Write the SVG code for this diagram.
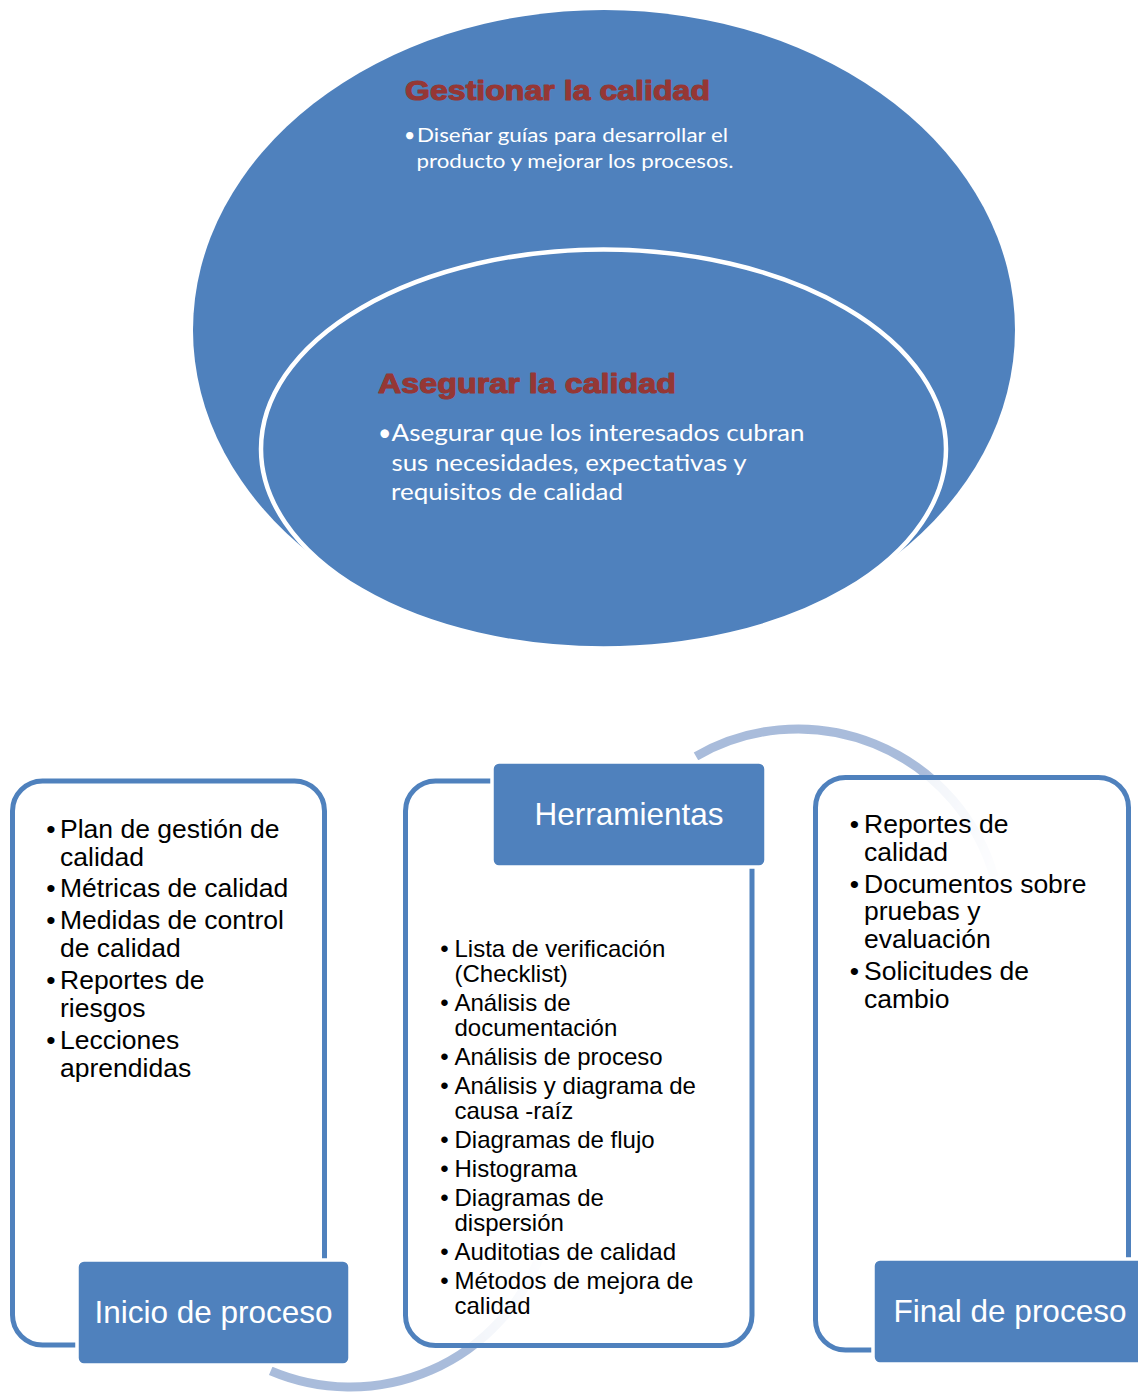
<svg xmlns="http://www.w3.org/2000/svg" width="1138" height="1394" viewBox="0 0 1138 1394">
  <style>
    .blob { fill: #4F81BD; }
    .ring { fill: #4F81BD; stroke: #FFFFFF; stroke-width: 4.5; }
    .head { font-family: "Liberation Sans", Arial, sans-serif; font-weight: bold; fill: #953735; stroke: #953735; stroke-width: 1.1; stroke-linejoin: round; }
    .note { font-family: Lato, "Open Sans", sans-serif; fill: #FFFFFF; }
    .frame { fill: #FFFFFF; fill-opacity: 0.85; stroke: #4F81BD; stroke-width: 5; }
    .tab { fill: #4F81BD; stroke: #FFFFFF; stroke-width: 3.5; }
    .tabtxt { font-family: "Liberation Sans", Arial, sans-serif; font-size: 31.5px; fill: #FFFFFF; text-anchor: middle; }
    .item { font-family: "Liberation Sans", Arial, sans-serif; fill: #000000; }
    .dot { text-anchor: middle; }
    .arc { fill: none; stroke-width: 9; stroke-linecap: butt; }
  </style>
  <defs>
    <linearGradient id="fadeTop" gradientUnits="userSpaceOnUse" x1="696" y1="756" x2="994" y2="877">
      <stop offset="0" stop-color="#A9BCDB" stop-opacity="1"/>
      <stop offset="0.68" stop-color="#A9BCDB" stop-opacity="1"/>
      <stop offset="1" stop-color="#A9BCDB" stop-opacity="0.2"/>
    </linearGradient>
    <linearGradient id="fadeBottom" gradientUnits="userSpaceOnUse" x1="270.7" y1="1370.9" x2="540.8" y2="1253.4">
      <stop offset="0" stop-color="#A9BCDB" stop-opacity="1"/>
      <stop offset="0.66" stop-color="#A9BCDB" stop-opacity="1"/>
      <stop offset="1" stop-color="#A9BCDB" stop-opacity="0.2"/>
    </linearGradient>
  </defs>

  <rect x="0" y="0" width="1138" height="1394" fill="#FFFFFF"/>

  <!-- Nested quality circles -->
  <g id="gestionar">
    <ellipse class="blob" cx="604" cy="330" rx="411" ry="320"/>
    <text class="head" x="405" y="100" font-size="27" textLength="305" lengthAdjust="spacingAndGlyphs">Gestionar la calidad</text>
    <text class="note" x="404" y="141.5" font-size="19.5">•</text>
    <text class="note" x="417" y="141.5" font-size="19.5" textLength="311" lengthAdjust="spacingAndGlyphs">Diseñar guías para desarrollar el</text>
    <text class="note" x="416.5" y="167.5" font-size="19.5" textLength="317" lengthAdjust="spacingAndGlyphs">producto y mejorar los procesos.</text>
  </g>

  <g id="asegurar">
    <ellipse class="ring" cx="603.5" cy="449" rx="342.5" ry="199.5"/>
    <text class="head" x="378" y="393" font-size="28" textLength="298" lengthAdjust="spacingAndGlyphs">Asegurar la calidad</text>
    <text class="note" x="378" y="440.5" font-size="23">•</text>
    <text class="note" x="391.5" y="440.5" font-size="23" textLength="413" lengthAdjust="spacingAndGlyphs">Asegurar que los interesados cubran</text>
    <text class="note" x="391.5" y="470.5" font-size="23" textLength="355" lengthAdjust="spacingAndGlyphs">sus necesidades, expectativas y</text>
    <text class="note" x="391" y="500" font-size="23" textLength="232" lengthAdjust="spacingAndGlyphs">requisitos de calidad</text>
  </g>

  <!-- Flow arcs behind the process panels -->
  <g id="connectors">
    <path class="arc" stroke="url(#fadeTop)" d="M696,756.3 A204,204 0 0 1 994.1,876.8"/>
    <path class="arc" stroke="url(#fadeBottom)" d="M270.7,1370.9 A203,203 0 0 0 540.8,1253.4"/>
  </g>

  <!-- Panel 1: start of process -->
  <g id="inicio">
    <rect class="frame" x="12.5" y="781" width="312" height="564" rx="30" ry="30"/>
    <g class="item" font-size="26.5">
      <text class="dot" x="51" y="838">•</text>
      <text x="60" y="838">Plan de gestión de</text>
      <text x="60" y="866">calidad</text>
      <text class="dot" x="51" y="897">•</text>
      <text x="60" y="897">Métricas de calidad</text>
      <text class="dot" x="51" y="929">•</text>
      <text x="60" y="929">Medidas de control</text>
      <text x="60" y="957">de calidad</text>
      <text class="dot" x="51" y="989">•</text>
      <text x="60" y="989">Reportes de</text>
      <text x="60" y="1017">riesgos</text>
      <text class="dot" x="51" y="1049">•</text>
      <text x="60" y="1049">Lecciones</text>
      <text x="60" y="1077">aprendidas</text>
    </g>
    <rect class="tab" x="77" y="1260" width="273" height="105" rx="7" ry="7"/>
    <text class="tabtxt" x="213.5" y="1323">Inicio de proceso</text>
  </g>

  <!-- Panel 2: tools -->
  <g id="herramientas">
    <rect class="frame" x="405.5" y="781" width="346.5" height="564.5" rx="30" ry="30"/>
    <rect class="tab" x="492" y="762" width="274" height="105" rx="7" ry="7"/>
    <text class="tabtxt" x="629" y="825">Herramientas</text>
    <g class="item" font-size="24">
      <text class="dot" x="444.5" y="957">•</text>
      <text x="454.5" y="957">Lista de verificación</text>
      <text x="454.5" y="982">(Checklist)</text>
      <text class="dot" x="444.5" y="1011">•</text>
      <text x="454.5" y="1011">Análisis de</text>
      <text x="454.5" y="1036">documentación</text>
      <text class="dot" x="444.5" y="1065">•</text>
      <text x="454.5" y="1065">Análisis de proceso</text>
      <text class="dot" x="444.5" y="1094">•</text>
      <text x="454.5" y="1094">Análisis y diagrama de</text>
      <text x="454.5" y="1119">causa -raíz</text>
      <text class="dot" x="444.5" y="1148">•</text>
      <text x="454.5" y="1148">Diagramas de flujo</text>
      <text class="dot" x="444.5" y="1177">•</text>
      <text x="454.5" y="1177">Histograma</text>
      <text class="dot" x="444.5" y="1206">•</text>
      <text x="454.5" y="1206">Diagramas de</text>
      <text x="454.5" y="1231">dispersión</text>
      <text class="dot" x="444.5" y="1260">•</text>
      <text x="454.5" y="1260">Auditotias de calidad</text>
      <text class="dot" x="444.5" y="1289">•</text>
      <text x="454.5" y="1289">Métodos de mejora de</text>
      <text x="454.5" y="1314">calidad</text>
    </g>
  </g>

  <!-- Panel 3: end of process -->
  <g id="final">
    <rect class="frame" x="815.5" y="777.5" width="313" height="572.5" rx="30" ry="30"/>
    <g class="item" font-size="26.5">
      <text class="dot" x="854.5" y="833">•</text>
      <text x="864" y="833">Reportes de</text>
      <text x="864" y="861">calidad</text>
      <text class="dot" x="854.5" y="893">•</text>
      <text x="864" y="893">Documentos sobre</text>
      <text x="864" y="920">pruebas y</text>
      <text x="864" y="948">evaluación</text>
      <text class="dot" x="854.5" y="980">•</text>
      <text x="864" y="980">Solicitudes de</text>
      <text x="864" y="1008">cambio</text>
    </g>
    <rect class="tab" x="873" y="1259" width="274" height="105" rx="7" ry="7"/>
    <text class="tabtxt" x="1010" y="1322">Final de proceso</text>
  </g>
</svg>
